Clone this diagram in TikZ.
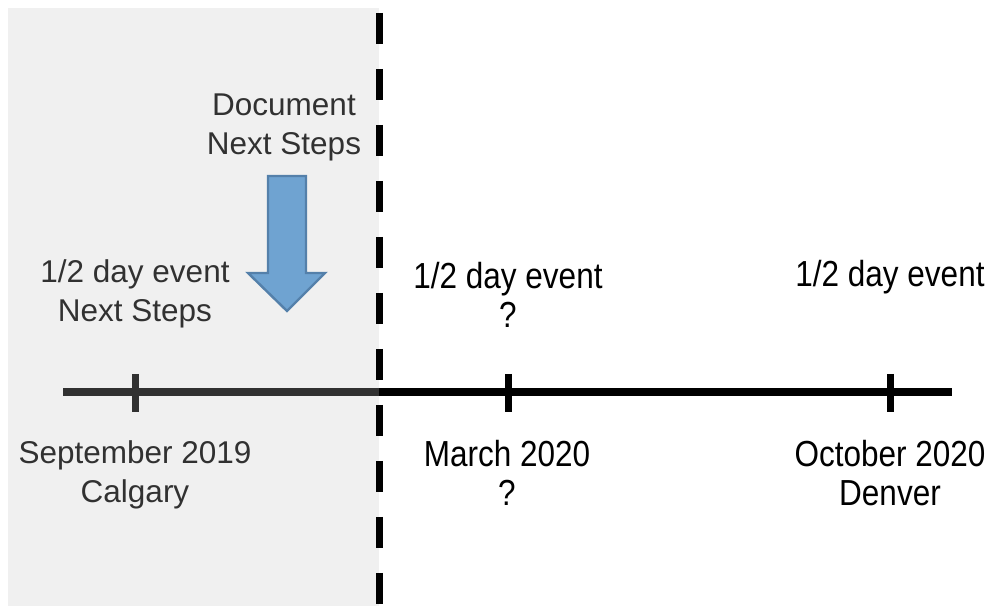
\documentclass[tikz,border=0pt]{standalone}
\usepackage{fontspec}
\setmainfont{Liberation Sans}
\usepackage{tikz}
\usetikzlibrary{positioning}
\definecolor{shadegray}{RGB}{196,196,196}
\definecolor{arrowblue}{RGB}{111,163,209}
\definecolor{arrowedge}{RGB}{84,128,170}

\tikzset{
  label/.style={align=center, inner sep=0pt, font=\fontsize{15.75}{19.5}\selectfont},
  tall/.style={label, font=\fontsize{15.75}{17.2}\selectfont, yscale=1.15, transform shape},
  tick/.style={line width=3.5pt},
}

\begin{document}
\begin{tikzpicture}[x=0.5pt, y=0.5pt]
    \useasboundingbox (0,0) rectangle (992,608);

    % timeline
    \coordinate (tlstart) at (63,216);
    \coordinate (tlend) at (952,216);
    \coordinate (sep19) at (135,216);
    \coordinate (mar20) at (508,216);
    \coordinate (oct20) at (890,216);
    \draw[line width=4pt] (tlstart) -- (tlend);
    \foreach \t in {sep19, mar20, oct20}
        \draw[tick] (\t) ++(0,18) -- ++(0,-38);

    % labels
    \node[label] (evleft) at (135,314) {1/2 day event\\Next Steps};
    \node[label] (docnote) at (284,481) {Document\\Next Steps};
    \node[tall] (evmid) at (508,313) {1/2 day event\\?};
    \node[tall] (evright) at (890,331) {1/2 day event};
    \node[label] (sepnote) at (135,133) {September 2019\\Calgary};
    \node[tall] (marnote) at (507,135) {March 2020\\?};
    \node[tall] (octnote) at (890,135) {October 2020\\Denver};

    % past shade
    \fill[shadegray, fill opacity=0.255] (8,2) rectangle (379,600);

    % arrow down
    \coordinate (tip) at (287,297);
    \filldraw[fill=arrowblue, draw=arrowedge, line width=1.2pt]
        (268,432) -- (306,432) -- (306,335) -- (325,335) -- (tip)
        -- (248,335) -- (268,335) -- cycle;

    % today line
    \coordinate (nowtop) at (379,595);
    \coordinate (nowbot) at (379,-10);
    \draw[line width=3.5pt, dash pattern=on 15.5pt off 12.5pt] (nowtop) -- (nowbot);
\end{tikzpicture}
\end{document}
